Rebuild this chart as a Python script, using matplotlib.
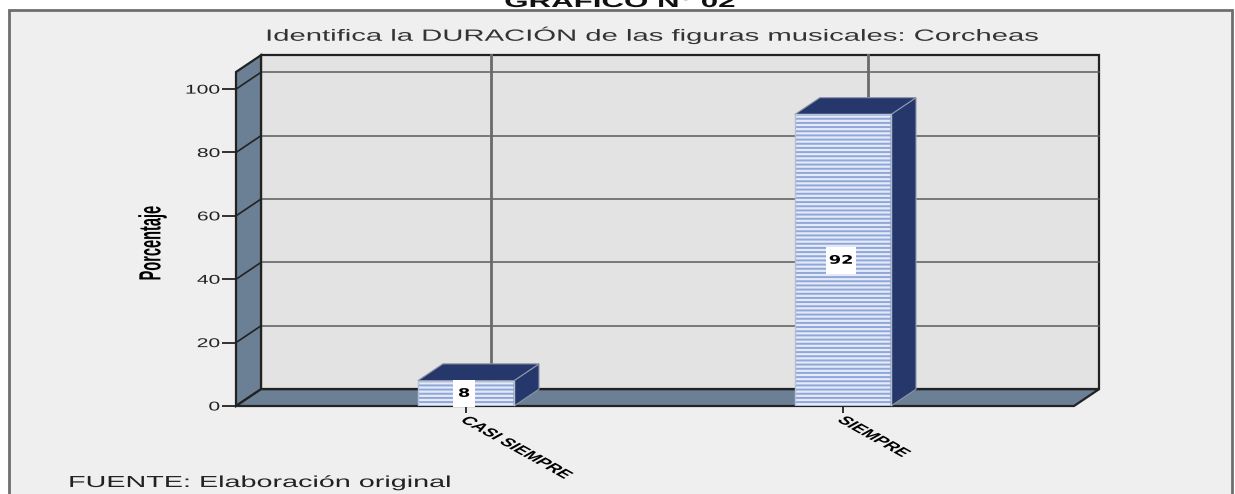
import matplotlib
matplotlib.use("Agg")
import matplotlib.pyplot as plt
from matplotlib.patches import Polygon, Rectangle
from matplotlib.patheffects import AbstractPathEffect
from matplotlib.transforms import Affine2D

categories = ["CASI SIEMPRE", "SIEMPRE"]
percentages = [8, 92]
yTicks = [0, 20, 40, 60, 80, 100]
backLines = [0, 20, 40, 60, 80, 100]

W, H = 1235, 494
SX = 1.8  # the source image is stretched sideways
FONT = "Liberation Sans"
yTop = 105.4
xMin, xMax = -0.61, 1.613
depthX, depthY = 0.0663, 5.3
barWidth = 0.255

wallColor = "#6b8094"
backColor = "#e3e3e3"
panelColor = "#efefef"
barDark = "#26376b"
stripe = "#8fa6d8"


class Stretch(AbstractPathEffect):
    def __init__(self, cx, sx=SX):
        super().__init__()
        self.cx = cx
        self.sx = sx

    def draw_path(self, renderer, gc, tpath, affine, rgbFace=None):
        t = affine + Affine2D().translate(-self.cx, 0).scale(self.sx, 1).translate(self.cx, 0)
        renderer.draw_path(gc, tpath, t, rgbFace)


plt.rcParams["font.family"] = [FONT, "DejaVu Sans"]
plt.rcParams["hatch.linewidth"] = 1.4

fig = plt.figure(figsize=(W / 100, H / 100), dpi=100, facecolor="white")
fig.add_artist(Rectangle((9 / W, -0.01), (1232 - 9) / W, 1 - 10 / H + 0.01, transform=fig.transFigure,
                         facecolor=panelColor, edgecolor="#6e6e6e", linewidth=2, zorder=-1))

ax = fig.add_axes([236 / W, 1 - 406 / H, (1074 - 236) / W, (406 - 72) / H])
ax.set_xlim(xMin, xMax)
ax.set_ylim(0, yTop)
ax.patch.set_visible(False)
for s in ax.spines.values():
    s.set_visible(False)

# back wall, side wall, floor
ax.add_patch(Polygon([(xMin + depthX, depthY), (xMax + depthX, depthY), (xMax + depthX, yTop + depthY), (xMin + depthX, yTop + depthY)],
                     facecolor=backColor, edgecolor="#222222", linewidth=1.6, clip_on=False, zorder=1))
ax.add_patch(Polygon([(xMin, 0), (xMin + depthX, depthY), (xMin + depthX, yTop + depthY), (xMin, yTop)],
                     facecolor=wallColor, edgecolor="#222222", linewidth=1.6, clip_on=False, zorder=2))
ax.add_patch(Polygon([(xMin, 0), (xMax, 0), (xMax + depthX, depthY), (xMin + depthX, depthY)],
                     facecolor=wallColor, edgecolor="#222222", linewidth=1.6, clip_on=False, zorder=2))

for v in backLines[1:]:
    ax.plot([xMin + depthX, xMax + depthX], [v + depthY, v + depthY], color="#5a5a5a", lw=1.1, clip_on=False, zorder=1.5)
    ax.plot([xMin, xMin + depthX], [v, v + depthY], color="#222222", lw=1.2, clip_on=False, zorder=2.5)
for i in range(len(categories)):
    ax.plot([i + depthX, i + depthX], [depthY, yTop + depthY], color="#6a6a6a", lw=2, clip_on=False, zorder=1.6)

for i, v in enumerate(percentages):
    left, right = i - barWidth / 2, i + barWidth / 2
    ax.bar(i, v, barWidth, color="#e4eaf8", edgecolor=stripe, hatch="----", linewidth=0, zorder=3)
    ax.bar(i, v, barWidth, fill=False, edgecolor="#b4bfd8", linewidth=1, zorder=3.1)
    ax.add_patch(Polygon([(right, 0), (right + depthX, depthY), (right + depthX, v + depthY), (right, v)],
                         facecolor=barDark, edgecolor="#8c95a8", linewidth=0.8, clip_on=False, zorder=3))
    ax.add_patch(Polygon([(left, v), (right, v), (right + depthX, v + depthY), (left + depthX, v + depthY)],
                         facecolor=barDark, edgecolor="#8c95a8", linewidth=0.8, clip_on=False, zorder=3))
    cx = ax.transData.transform((i, 0))[0]
    ax.text(i - 0.005, v / 2, str(v), ha="center", va="center", fontsize=8.5, fontweight="bold", color="black", zorder=5,
            family="DejaVu Sans", path_effects=[Stretch(cx - 2, 1.5)],
            bbox=dict(boxstyle="square,pad=0.6", facecolor="white", edgecolor="none"))

ax.set_yticks(yTicks)
ax.tick_params(axis="y", length=10, width=1.2, color="#111111", pad=2, labelsize=9.2, labelcolor="#222222")
for lab in ax.get_yticklabels():
    lab.set_path_effects([Stretch(218, 1.65)])

ax.set_xticks(range(len(categories)))
ax.set_xticklabels(categories, rotation=-45, ha="left", va="top", rotation_mode="anchor", fontsize=8.3, fontweight="bold")
ax.tick_params(axis="x", length=5, width=1.2, color="#111111", pad=1)
for i, lab in enumerate(ax.get_xticklabels()):
    lab.set_path_effects([Stretch(ax.transData.transform((i, 0))[0] - 6)])

fig.text(152 / W, 1 - 243 / H, "Porcentaje", rotation=90, ha="center", va="center", fontsize=10.5, fontweight="bold",
         path_effects=[Stretch(152, 2.1)])
fig.text(654 / W, 1 - 35 / H, "Identifica la DURACIÓN de las figuras musicales: Corcheas", ha="center", va="center",
         fontsize=11.7, color="#333333", path_effects=[Stretch(654)])
fig.text(68 / W, 1 - 487 / H, "FUENTE: Elaboración original", ha="left", va="baseline", fontsize=11.5, color="#222222",
         path_effects=[Stretch(68)])
fig.text(620 / W, 1 - 7 / H, "GRÁFICO N° 02", ha="center", va="baseline", fontsize=12.5, fontweight="bold", color="#111111",
         path_effects=[Stretch(620)])

fig.savefig("out.png", dpi=100)
